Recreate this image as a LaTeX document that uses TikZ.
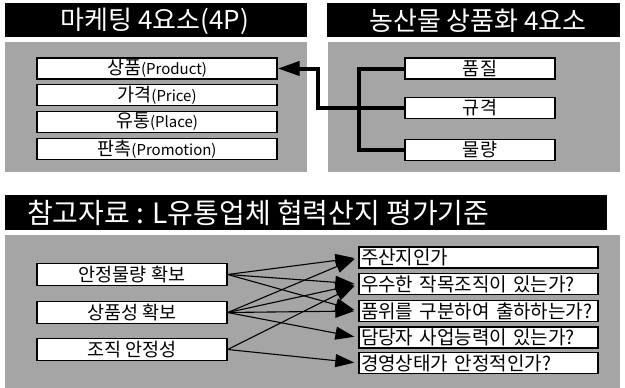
\documentclass[tikz,border=0pt]{standalone}
\usepackage{fontspec}
\setmainfont{Noto Sans CJK KR}
\usetikzlibrary{arrows.meta}
\definecolor{panelgray}{RGB}{165,165,165}
\newcommand\latpart[1]{{\fontsize{15}{16}\selectfont #1}}
\begin{document}
\begin{tikzpicture}[x=1pt,y=-1pt,
  panel/.style={fill=panelgray},
  titlebar/.style={fill=black, inner sep=0pt},
  titletext/.style={text=white, font=\fontsize{26}{28}\selectfont, inner sep=0pt},
  whitebox/.style={draw=black, line width=1.4pt, fill=white, inner sep=0pt, minimum height=21pt, font=\fontsize{18.5}{19}\selectfont},
  thickline/.style={line width=4pt, line join=miter, draw=black},
  linkarrow/.style={line width=1.1pt, -{Triangle[length=19pt,width=13pt]}, shorten >=4pt}
]
\useasboundingbox (0,0) rectangle (625,388);
\fill[white] (0,0) rectangle (625,388);

% panels
\fill[panel] (5,42) rectangle (307,172);
\fill[panel] (328,42) rectangle (620,172);
\fill[panel] (5,235) rectangle (620,388);

% title bars
\node[titlebar, minimum width=302pt, minimum height=34pt] (tb1) at (156,20) {};
\node[titletext] (tt1) at (155,21) {마케팅 4요소(4P)};
\node[titlebar, minimum width=293pt, minimum height=34pt] (tb2) at (473.5,20) {};
\node[titletext] (tt2) at (478,21) {농산물 상품화 4요소};
\node[titlebar, minimum width=602pt, minimum height=35pt] (tb3) at (306,212.5) {};
\node[titletext, anchor=west, font=\fontsize{28}{30}\selectfont] (tt3) at (27,213) {참고자료 : L유통업체 협력산지 평가기준};

% top-left boxes
\node[whitebox, minimum width=240pt] (p1) at (157,68.5) {상품\latpart{(Product)}};
\node[whitebox, minimum width=240pt] (p2) at (157,95) {가격\latpart{(Price)}};
\node[whitebox, minimum width=240pt] (p3) at (157,122) {유통\latpart{(Place)}};
\node[whitebox, minimum width=240pt] (p4) at (157,149) {판촉\latpart{(Promotion)}};

% top-right boxes
\node[whitebox, minimum width=150pt] (q1) at (480,68.5) {품질};
\node[whitebox, minimum width=150pt] (q2) at (480,108) {규격};
\node[whitebox, minimum width=150pt] (q3) at (480,150) {물량};

\coordinate (jx) at (359,108);
\coordinate (jy) at (318,108);
\draw[thickline] (q1.west) -| (jx) |- (q3.west);
\draw[thickline, -{Triangle[length=22pt,width=14pt]}] (q2.west) -- (jy) |- (p1.east);

% bottom-left boxes
\node[whitebox, minimum width=190pt, minimum height=22pt] (l1) at (132,274.5) {안정물량 확보};
\node[whitebox, minimum width=190pt, minimum height=22pt] (l2) at (132,312.5) {상품성 확보};
\node[whitebox, minimum width=190pt, minimum height=22pt] (l3) at (132,349.5) {조직 안정성};

% bottom-right boxes
\tikzset{rbox/.style={whitebox, minimum width=239pt, text width=235pt, inner xsep=2pt, align=left, font=\fontsize{19}{20}\selectfont}}
\node[rbox] (r1) at (478.5,257.5) {주산지인가};
\node[rbox] (r2) at (478.5,284) {우수한 작목조직이 있는가?};
\node[rbox] (r3) at (478.5,311) {품위를 구분하여 출하하는가?};
\node[rbox] (r4) at (478.5,337.5) {담당자 사업능력이 있는가?};
\node[rbox] (r5) at (478.5,363) {경영상태가 안정적인가?};

% links
\draw[linkarrow] (l1.east) -- (r1.west);
\draw[linkarrow] (l1.east) -- (r2.west);
\draw[linkarrow] (l1.east) -- (r3.west);
\draw[linkarrow] (l2.east) -- (r1.west);
\draw[linkarrow] (l2.east) -- (r2.west);
\draw[linkarrow] (l2.east) -- (r3.west);
\draw[linkarrow] (l2.east) -- (r4.west);
\draw[linkarrow] (l3.east) -- (r2.west);
\draw[linkarrow] (l3.east) -- (r5.west);
\end{tikzpicture}
\end{document}
